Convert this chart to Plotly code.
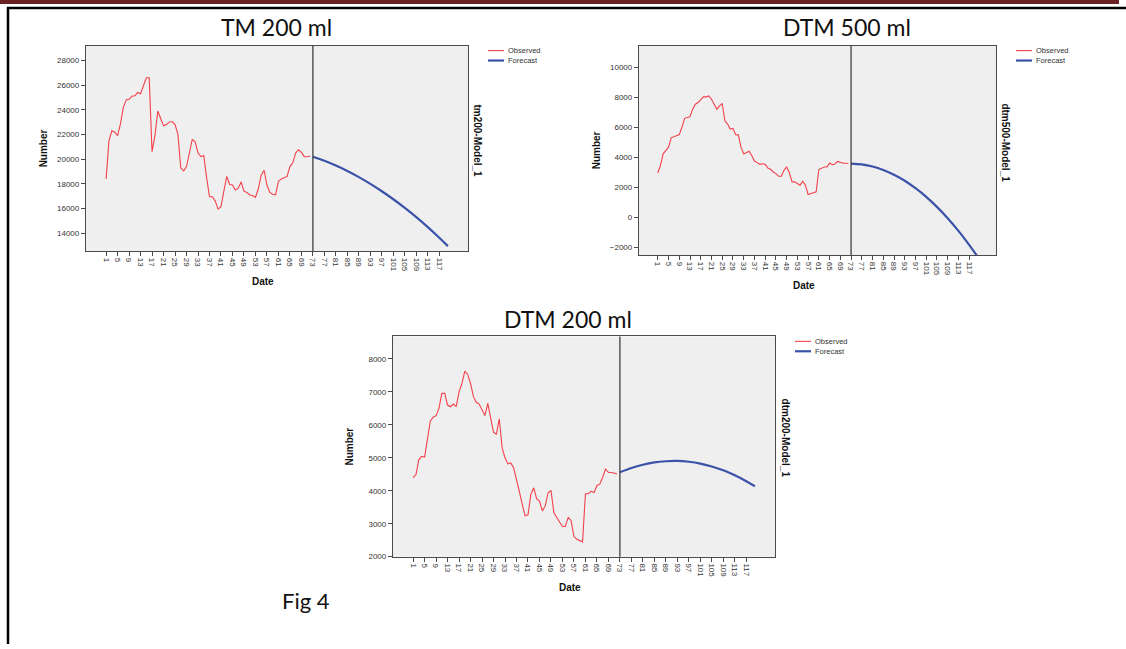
import plotly.graph_objects as go

# ---------------- data ----------------
obs_dates = list(range(1, 73))
fc_dates = [73, 77, 81, 85, 89, 93, 97, 101, 105, 109, 113, 117, 120]
tick_vals = list(range(1, 120, 4))
tick_text = [str(v) for v in tick_vals]

tm200_obs = [18400, 21500, 22300, 22180, 21900, 22850, 24200, 24800, 24850, 25100,
             25130, 25400, 25300, 25950, 26600, 26600, 20600, 21900, 23900, 23300,
             22700, 22800, 23000, 23050, 22800, 22000, 19300, 19050, 19400, 20500,
             21600, 21400, 20500, 20200, 20300, 18500, 16950, 16950, 16600, 15950,
             16150, 17400, 18600, 17950, 17900, 17500, 17650, 18150, 17400, 17300,
             17100, 17050, 16900, 17600, 18700, 19100, 17900, 17300, 17150, 17100,
             18200, 18400, 18500, 18600, 19400, 19700, 20500, 20750, 20550, 20200,
             20200, 20250]
tm200_fc = [20200, 19865, 19480, 19040, 18545, 18000, 17400, 16750, 16050, 15300,
            14490, 13630, 12950]

dtm500_obs = [2950, 3460, 4230, 4450, 4670, 5290, 5380, 5440, 5510, 6000,
              6590, 6650, 6700, 7200, 7530, 7640, 7800, 8020, 8020, 8080,
              7860, 7490, 7200, 7420, 7580, 6430, 6210, 5880, 5920, 5500,
              5490, 4670, 4230, 4300, 4400, 4120, 3750, 3640, 3530, 3570,
              3530, 3280, 3200, 3020, 2910, 2730, 2730, 3130, 3350, 2980,
              2360, 2360, 2250, 2140, 2400, 2140, 1520, 1590, 1650, 1700,
              3180, 3240, 3350, 3350, 3610, 3500, 3550, 3720, 3650, 3600,
              3600, 3580]
dtm500_fc = [3580, 3525, 3385, 3155, 2835, 2435, 1940, 1365, 695, -60,
             -900, -1830, -2580]

dtm200_obs = [4400, 4490, 4945, 5045, 5025, 5550, 6120, 6230, 6280, 6500,
              6955, 6955, 6600, 6550, 6630, 6550, 7000, 7255, 7630, 7530,
              7255, 6855, 6685, 6630, 6450, 6280, 6650, 6250, 5770, 5720,
              6180, 5300, 5000, 4815, 4845, 4695, 4290, 3970, 3590, 3240,
              3270, 3890, 4090, 3760, 3690, 3390, 3540, 3940, 4010, 3340,
              3190, 3040, 2915, 2915, 3190, 3090, 2610, 2530, 2500, 2450,
              3910, 3910, 3990, 3940, 4160, 4200, 4410, 4660, 4560, 4560,
              4540, 4510]
dtm200_fc = [4560, 4690, 4790, 4860, 4895, 4905, 4880, 4825, 4735, 4620,
             4470, 4290, 4135]

titles = ["TM 200 ml", "DTM 500 ml", "DTM 200 ml"]
model_names = ["tm200-Model_1", "dtm500-Model_1", "dtm200-Model_1"]
legend_names = ["Observed", "Forecast"]

# ---------------- layout helpers ----------------
W, H = 1126, 649
def px(x):
    return x / W
def py(y):
    return 1 - y / H

RED = "#f4414b"
BLUE = "#3a53a8"
AXC = "#4a4a4a"
FONT = "Liberation Sans"

# plot boxes in pixels: (left, right, top, bottom)
boxes = [(86, 468, 46, 253), (639, 996, 46, 257), (393, 775, 339, 561)]
yranges = [[12550, 29200], [-2510, 11430], [2000, 8684]]
ydticks = [2000, 2000, 1000]
series = [(tm200_obs, tm200_fc), (dtm500_obs, dtm500_fc), (dtm200_obs, dtm200_fc)]

fig = go.Figure()
layout = dict(width=W, height=H, margin=dict(l=0, r=0, t=0, b=0),
              paper_bgcolor="white", plot_bgcolor="#efefef", showlegend=False,
              font=dict(family=FONT, color="#333333"))

annotations = []
shapes = []

def note(text, x, y, size, color="#111111", family=FONT, angle=0, xanchor="center"):
    annotations.append(dict(text=text, xref="paper", yref="paper", x=px(x), y=py(y),
                            xanchor=xanchor, yanchor="middle", textangle=angle,
                            showarrow=False, font=dict(size=size, color=color, family=family)))

for i, ((l, r, t, b), yr, dt, (obs, fc)) in enumerate(zip(boxes, yranges, ydticks, series)):
    n = "" if i == 0 else str(i + 1)
    xa, ya = "x" + n, "y" + n
    fig.add_trace(go.Scatter(x=obs_dates, y=obs, mode="lines", xaxis=xa, yaxis=ya,
                             line=dict(color=RED, width=1.1), name=legend_names[0]))
    fig.add_trace(go.Scatter(x=fc_dates, y=fc, mode="lines", xaxis=xa, yaxis=ya,
                             line=dict(color=BLUE, width=2.2, shape="spline"),
                             name=legend_names[1]))
    layout["xaxis" + n] = dict(domain=[px(l), px(r)], anchor=ya, range=[-6, 127],
                               tickvals=tick_vals, ticktext=tick_text, tickangle=90,
                               ticks="outside", ticklen=4, tickcolor=AXC,
                               tickfont=dict(size=8, color="#333333"),
                               showline=True, mirror=True, linecolor=AXC, linewidth=1.3,
                               showgrid=False, zeroline=False)
    layout["yaxis" + n] = dict(domain=[py(b), py(t)], anchor=xa, range=yr, dtick=dt,
                               tick0=0, tickformat="d", ticks="outside", ticklen=4,
                               tickcolor=AXC, tickfont=dict(size=8, color="#333333"),
                               showline=True, mirror=True, linecolor=AXC, linewidth=1.3,
                               showgrid=False, zeroline=False)
    # vertical separator at forecast start
    shapes.append(dict(type="line", xref=xa, yref=ya + " domain", x0=73, x1=73, y0=0, y1=1,
                       line=dict(color="#333333", width=1.2)))
    # axis titles
    note("<b>Number</b>", l - 43, (t + b) / 2, 10, angle=-90)
    note("<b>Date</b>", (l + r) / 2 - 14, b + 31, 10)
    note("<b>" + model_names[i] + "</b>", r + 10, (t + b) / 2 - 8, 10, angle=90)
    # legend
    lx, ly = r + 20, t + 5
    shapes.append(dict(type="line", xref="paper", yref="paper", x0=px(lx), x1=px(lx + 16),
                       y0=py(ly), y1=py(ly), line=dict(color=RED, width=1.1)))
    shapes.append(dict(type="line", xref="paper", yref="paper", x0=px(lx), x1=px(lx + 16),
                       y0=py(ly + 10), y1=py(ly + 10), line=dict(color=BLUE, width=2.2)))
    for k, nm in enumerate(legend_names):
        note(nm, lx + 18, ly + 10 * k, 7.5, color="#333333", xanchor="left")

# chart titles
title_pos = [(276, 27), (847, 27), (568, 321)]
for txt, (tx, ty) in zip(titles, title_pos):
    note(txt, tx, ty, 23, family="Lato")
note("Fig 4", 306, 605, 22, family="Lato")

# page decoration
shapes.append(dict(type="rect", xref="paper", yref="paper", x0=0, x1=px(1119), y0=py(4), y1=1,
                   fillcolor="#6a2124", line=dict(width=0)))
shapes.append(dict(type="line", xref="paper", yref="paper", x0=px(7), x1=1, y0=py(8), y1=py(8),
                   line=dict(color="black", width=2.5)))
shapes.append(dict(type="line", xref="paper", yref="paper", x0=px(8), x1=px(8), y0=py(7), y1=0,
                   line=dict(color="black", width=2.5)))

layout["annotations"] = annotations
layout["shapes"] = shapes
fig.update_layout(**layout)
fig.write_html("out.html", config={"displayModeBar": False},
               post_script="document.body.style.margin='0';document.body.style.overflow='hidden';")
